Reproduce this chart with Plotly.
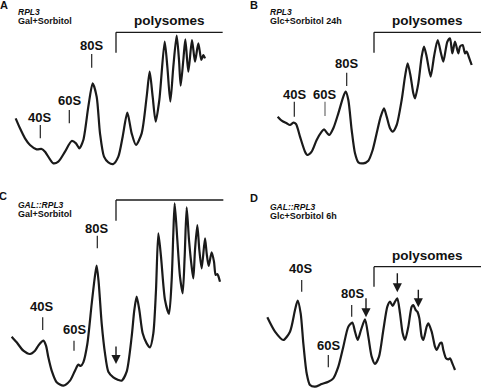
import plotly.graph_objects as go

# Polysome profiles (x = gradient position, y = depth from panel top, same units per panel)
a_x = [47, 60, 75, 90, 110, 125, 135, 150, 160, 175, 195, 215, 228, 238, 250, 265, 278, 290, 300, 312, 325, 340,
       355, 368, 382, 395, 408, 425, 440, 449, 458, 467, 478, 494, 502, 511, 520, 530, 537, 542, 550, 556, 565, 576,
       585, 595, 604, 610, 615]
a_y = [355, 385, 415, 435, 448, 447, 455, 478, 490, 485, 455, 423, 430, 445, 420, 320, 250, 290, 400, 470, 487, 492,
       470, 410, 338, 400, 435, 400, 290, 215, 290, 365, 300, 125, 200, 305, 200, 107, 180, 257, 180, 118, 215, 120,
       185, 130, 180, 165, 175]

b_x = [113, 125, 140, 150, 160, 168, 180, 195, 202, 215, 230, 245, 252, 262, 268, 280, 295, 310, 317, 325, 335, 345,
       355, 370, 385, 398, 410, 422, 432, 440, 450, 458, 470, 485, 495, 503, 512, 520, 525, 535, 545, 552, 560, 572,
       582, 593, 603, 610, 622, 630, 637, 645, 655, 660, 668, 675, 680, 688, 695]
b_y = [350, 362, 370, 375, 368, 372, 410, 455, 465, 455, 420, 395, 388, 400, 405, 385, 340, 290, 275, 300, 390, 460,
       487, 490, 482, 450, 400, 350, 325, 350, 385, 395, 375, 300, 230, 190, 230, 280, 295, 250, 170, 140, 170, 230,
       170, 120, 160, 185, 125, 115, 160, 125, 160, 140, 135, 160, 155, 175, 195]

c_x = [35, 50, 70, 90, 105, 115, 123, 130, 138, 145, 155, 170, 190, 210, 225, 235, 242, 250, 262, 275, 285, 290, 296,
       305, 315, 325, 340, 355, 365, 380, 395, 403, 410, 418, 428, 440, 450, 460, 468, 475, 483, 495, 507, 515, 520,
       524, 532, 540, 548, 554, 560, 567, 575, 580, 585, 592, 598, 605, 615, 620, 626, 635, 642, 647, 652, 655, 660]
c_y = [428, 445, 470, 480, 470, 455, 445, 440, 455, 490, 530, 565, 575, 560, 530, 512, 516, 505, 450, 330, 245, 215,
       265, 388, 478, 533, 550, 558, 560, 533, 428, 348, 308, 348, 418, 448, 460, 418, 288, 118, 188, 318, 360, 258,
       118, 28, 138, 248, 298, 188, 40, 138, 218, 253, 168, 93, 168, 223, 133, 178, 216, 175, 203, 243, 240, 246, 263]

d_x = [82, 105, 130, 150, 165, 173, 182, 190, 200, 210, 225, 245, 265, 280, 295, 310, 325, 337, 345, 353, 363, 375,
       385, 395, 405, 417, 430, 442, 450, 458, 465, 472, 480, 488, 495, 505, 515, 520, 527, 532, 538, 545, 550, 560,
       565, 575, 585, 590, 600, 605, 610, 618, 625, 630, 637, 645]
d_y = [370, 413, 438, 413, 348, 320, 358, 448, 538, 573, 578, 570, 563, 553, 518, 458, 398, 386, 413, 438, 408, 376,
       428, 488, 510, 488, 408, 338, 323, 336, 323, 313, 358, 418, 438, 398, 338, 333, 348, 353, 373, 428, 438, 398,
       388, 413, 458, 468, 448, 446, 468, 493, 496, 493, 508, 528]

panel_letters = ["A", "B", "C", "D"]
strains = ["RPL3", "RPL3", "GAL::RPL3", "GAL::RPL3"]
conditions = ["Gal+Sorbitol", "Glc+Sorbitol 24h", "Gal+Sorbitol", "Glc+Sorbitol 6h"]

W, H = 481, 388
xsplit = 240 / W
domains = [([0, xsplit], [0.5, 1]), ([xsplit, 1], [0.5, 1]), ([0, xsplit], [0, 0.5]), ([xsplit, 1], [0, 0.5])]
xranges = [[0, 720], [0, 723], [0, 720], [0, 723]]

fig = go.Figure()
profiles = [(a_x, a_y), (b_x, b_y), (c_x, c_y), (d_x, d_y)]
LINE = "#1a1a1a"
for i, (px, py) in enumerate(profiles):
    s = "" if i == 0 else str(i + 1)
    fig.add_trace(go.Scatter(x=px, y=py, mode="lines", xaxis="x" + s, yaxis="y" + s,
                             line=dict(color=LINE, width=2.2, shape="spline", smoothing=0.7),
                             hoverinfo="skip", showlegend=False, cliponaxis=False))
    fig.layout["xaxis" + s] = dict(domain=domains[i][0], range=xranges[i], visible=False, fixedrange=True,
                                   anchor="y" + s)
    fig.layout["yaxis" + s] = dict(domain=domains[i][1], range=[582, 0], visible=False, fixedrange=True,
                                   anchor="x" + s)

FONT = "Liberation Sans"
ann = []
shapes = []


def ref(i):
    s = "" if i == 0 else str(i + 1)
    return "x" + s, "y" + s


def label(i, text, x, y, size=13, **kw):
    xr, yr = ref(i)
    ann.append(dict(text=text, x=x, y=y, xref=xr, yref=yr, showarrow=False,
                    font=dict(family=FONT, size=size, color="#111"), **kw))


def line(i, x0, y0, x1, y1, color=LINE, width=1.3):
    xr, yr = ref(i)
    shapes.append(dict(type="line", x0=x0, y0=y0, x1=x1, y1=y1, xref=xr, yref=yr,
                       line=dict(color=color, width=width)))


def arrow(i, x, y0, y1):
    xr, yr = ref(i)
    ann.append(dict(x=x, y=y1, ax=x, ay=y0, xref=xr, yref=yr, axref=xr, ayref=yr, text="",
                    showarrow=True, arrowhead=2, arrowsize=1.3, arrowwidth=1.4, arrowcolor=LINE))


letter_pos = [(11, 15), (42, 15), (9, 6), (42, 12)]
text_left = [47, 85, 47, 85]
strain_y = [35, 35, 34, 38]
cond_y = [62, 62, 60, 65]
for i in range(4):
    label(i, "<b>%s</b>" % panel_letters[i], letter_pos[i][0], letter_pos[i][1], size=11)
    label(i, "<b><i>%s</i></b>" % strains[i], text_left[i], strain_y[i], size=8.5, xanchor="left")
    label(i, "<b>%s</b>" % conditions[i], text_left[i], cond_y[i], size=9, xanchor="left")

# polysome brackets
poly = [(508, 60, 348, 668, 97, 158), (562, 60, 402, 723, 97, 158),
        (508, -17, 348, 670, 18, 80), (562, 183, 402, 723, 218, 278)]
for i, (tx, ty, x0, x1, yh, yv) in enumerate(poly):
    label(i, "<b>polysomes</b>", tx, ty, size=13.5)
    line(i, x0, yh, x1, yh)
    line(i, x0, yh, x0, yv)

# peak labels: (panel, text, tx, ty, tick x, tick y0, tick y1)
peaks = [
    (0, "80S", 275, 135, 275, 162, 203), (0, "60S", 207, 300, 208, 330, 370), (0, "40S", 118, 352, 121, 375, 415),
    (1, "80S", 318, 190, 320, 218, 258), (1, "40S", 163, 283, 163, 305, 350), (1, "60S", 252, 283, 255, 305, 348),
    (2, "80S", 290, 103, 292, 125, 163), (2, "40S", 123, 338, 128, 370, 408), (2, "60S", 222, 405, 222, 440, 470),
    (3, "40S", 182, 223, 185, 258, 293), (3, "80S", 337, 298, 335, 333, 368), (3, "60S", 265, 453, 265, 483, 520),
]
for i, t, tx, ty, lx, ly0, ly1 in peaks:
    label(i, "<b>%s</b>" % t, tx, ty, size=13)
    line(i, lx, ly0, lx, ly1, color="#333" if not (i == 1 and t == "60S") else "#777")

arrow(2, 348, 453, 510)
arrow(3, 378, 308, 370)
arrow(3, 472, 233, 295)
arrow(3, 535, 283, 340)

fig.update_layout(width=W, height=H, margin=dict(l=0, r=0, t=0, b=0), paper_bgcolor="white",
                  plot_bgcolor="white", annotations=ann, shapes=shapes, showlegend=False)
fig.write_html("out.html", config={"displayModeBar": False},
               post_script="document.body.style.margin='0px';")
